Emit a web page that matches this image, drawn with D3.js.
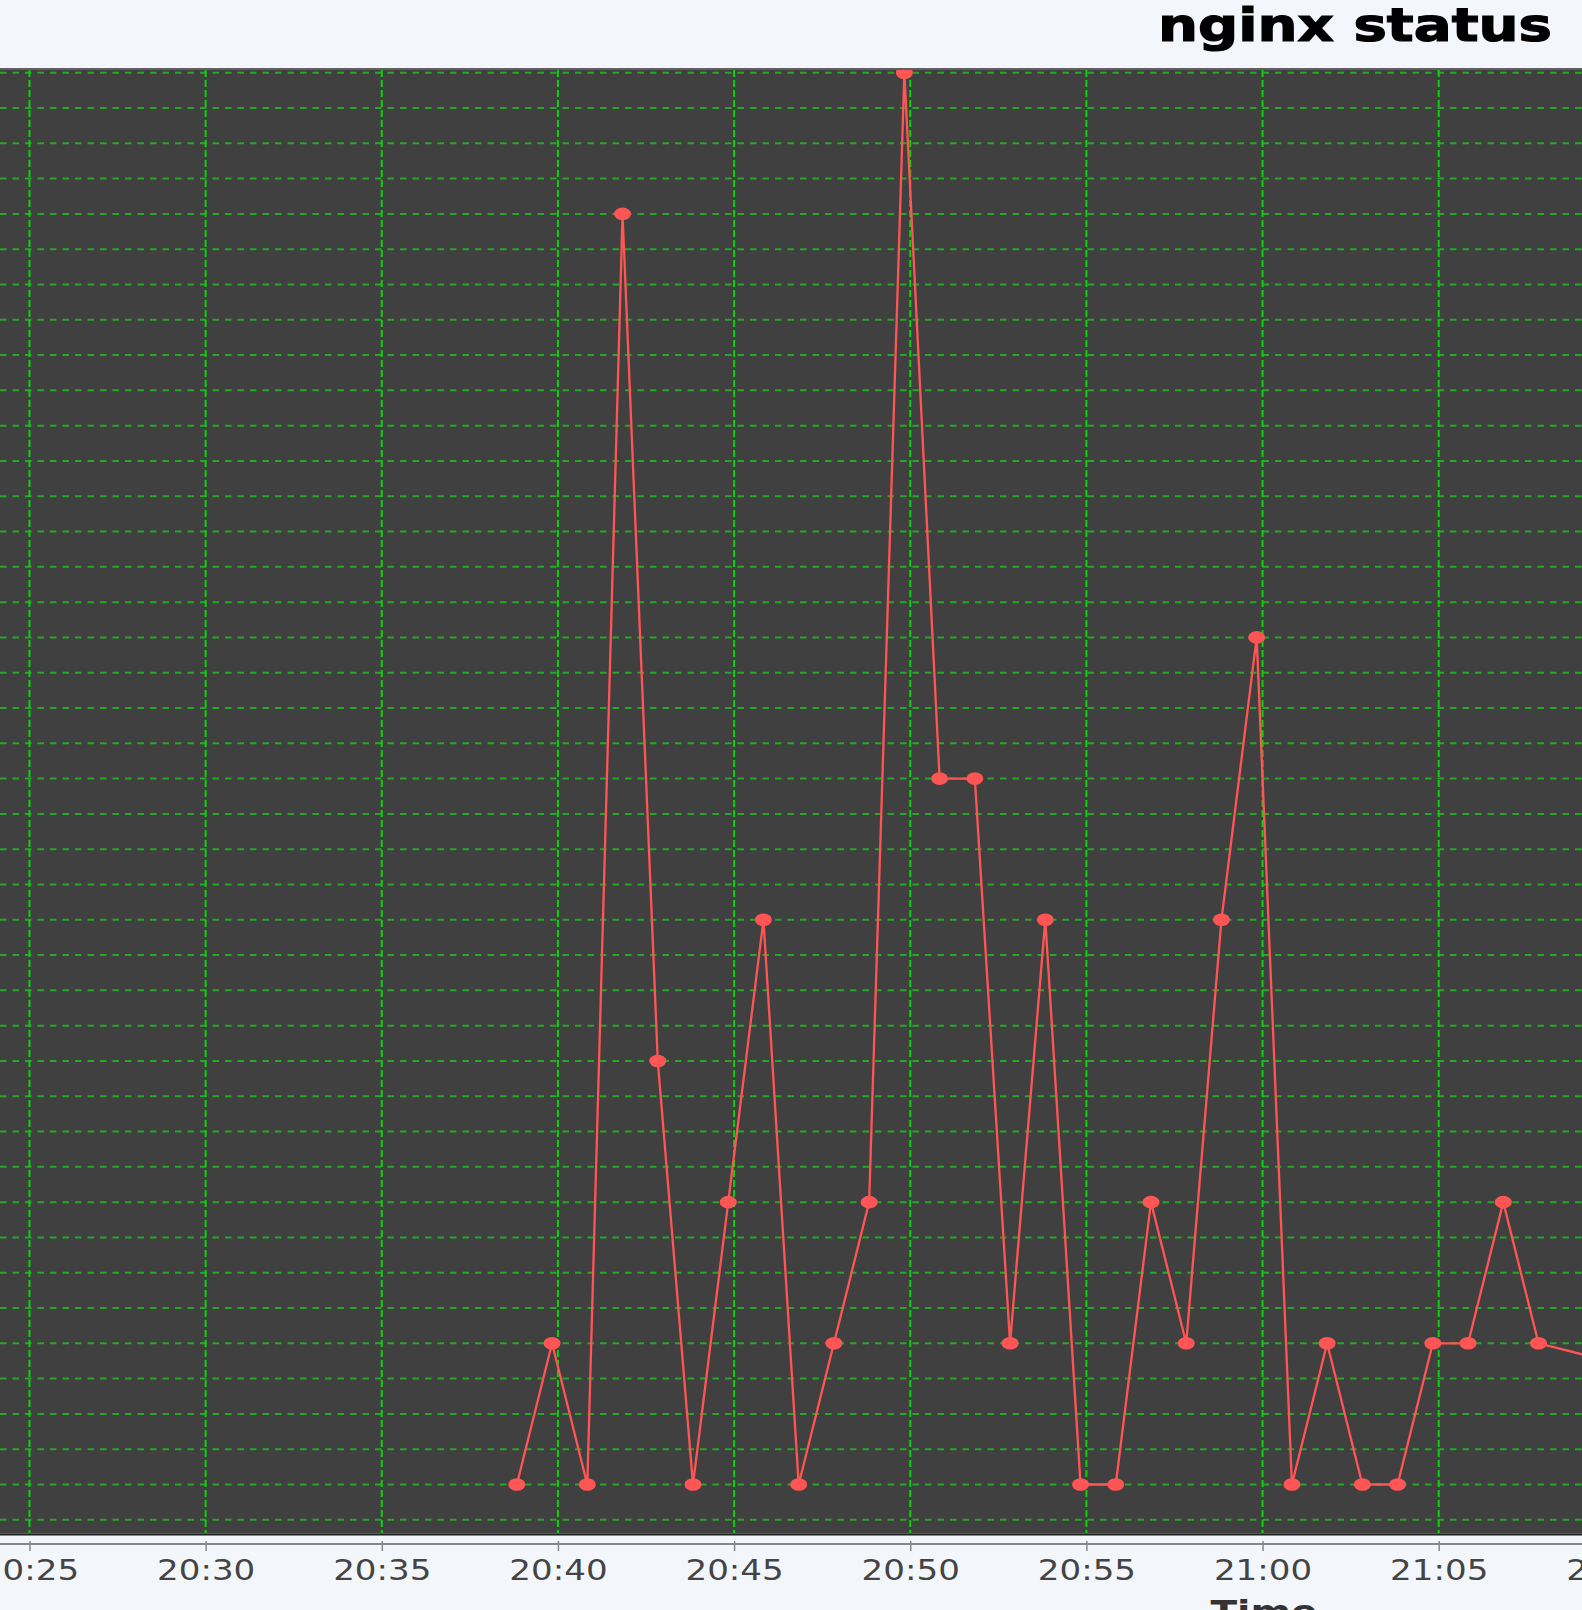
<!DOCTYPE html>
<html><head><meta charset="utf-8">
<script src="https://cdn.jsdelivr.net/npm/d3@7"></script>
<style>html,body{margin:0;padding:0;background:#f3f6fb;} svg{display:block}</style>
</head><body>
<svg id="chart" width="1582" height="1610"></svg>
<script>
// ---- data ----
const chartTitle = "nginx status";
const xAxisLabel = "Time";
const times = ["20:38:50","20:39:50","20:40:50","20:41:50","20:42:50","20:43:50","20:44:50","20:45:50",
  "20:46:50","20:47:50","20:48:50","20:49:50","20:50:50","20:51:50","20:52:50","20:53:50","20:54:50",
  "20:55:50","20:56:50","20:57:50","20:58:50","20:59:50","21:00:50","21:01:50","21:02:50","21:03:50",
  "21:04:50","21:05:50","21:06:50","21:07:50","21:23:50"];
const values = [1,2,1,10,4,1,3,5,1,2,3,11,6,6,2,5,1,1,3,2,5,7,1,2,1,1,2,2,3,2,1];
const xTickLabels = ["20:25","20:30","20:35","20:40","20:45","20:50","20:55","21:00","21:05","21:10"];
const yGridValues = d3.range(0.75, 11.001, 0.25);

// ---- layout ----
const W = 1582, H = 1610;
const plotTop = 70, plotBottom = 1533.5;
const svg = d3.select("#chart");
const parseT = d3.timeParse("%H:%M:%S");
const parseTick = d3.timeParse("%H:%M");
const fmt = d3.timeFormat("%H:%M");

const x = d3.scaleTime().domain([parseTick("20:25"), parseTick("21:05")]).range([29.5, 1438.7]);
const y = d3.scaleLinear().domain([1, 11]).range([1484.5, 72.7]);

const data = times.map((t, i) => ({t: parseT(t), v: values[i]}));
const tickDates = xTickLabels.map(parseTick);

svg.append("rect").attr("x", 0).attr("y", 0).attr("width", W).attr("height", H).attr("fill", "#f3f6fb");

svg.append("defs").append("clipPath").attr("id", "plotclip")
  .append("rect").attr("x", 0).attr("y", plotTop).attr("width", W).attr("height", plotBottom - plotTop);

// plot background
svg.append("rect").attr("x", 0).attr("y", plotTop).attr("width", W).attr("height", plotBottom - plotTop)
  .attr("fill", "#404040");

const plot = svg.append("g").attr("clip-path", "url(#plotclip)");

// horizontal gridlines
plot.append("g").selectAll("line").data(yGridValues).join("line")
  .attr("x1", 0).attr("x2", W)
  .attr("y1", d => y(d)).attr("y2", d => y(d))
  .attr("stroke", "#27a627").attr("stroke-width", 2).attr("stroke-dasharray", "6.5,6");

// vertical gridlines
plot.append("g").selectAll("line").data(tickDates).join("line")
  .attr("x1", d => x(d)).attr("x2", d => x(d))
  .attr("y1", plotTop).attr("y2", plotBottom)
  .attr("stroke", "#0fcf0f").attr("stroke-width", 2).attr("stroke-dasharray", "7,3");

// line
plot.append("path").datum(data)
  .attr("fill", "none").attr("stroke", "#ff5555").attr("stroke-width", 2.3)
  .attr("d", d3.line().x(d => x(d.t)).y(d => y(d.v)));

// points
plot.append("g").selectAll("ellipse").data(data).join("ellipse")
  .attr("cx", d => x(d.t)).attr("cy", d => y(d.v))
  .attr("rx", 8.5).attr("ry", 6.3).attr("fill", "#ff5555");

// plot borders
svg.append("line").attr("x1", 0).attr("x2", W).attr("y1", 69).attr("y2", 69)
  .attr("stroke", "#606060").attr("stroke-width", 2);
svg.append("line").attr("x1", 0).attr("x2", W).attr("y1", 1534.5).attr("y2", 1534.5)
  .attr("stroke", "#1e1e1e").attr("stroke-width", 2);

// x axis
const axisG = svg.append("g").attr("transform", "translate(0,1544)")
  .call(d3.axisBottom(x).tickValues(tickDates).tickFormat(fmt).tickSizeOuter(0));
axisG.select(".domain").remove();
axisG.insert("line", ":first-child").attr("x1", 0).attr("x2", W).attr("y1", 0).attr("y2", 0)
  .attr("stroke", "#888").attr("stroke-width", 2);
axisG.selectAll(".tick line").attr("y1", -3).attr("y2", 7).attr("stroke", "#888").attr("stroke-width", 1.5);
axisG.selectAll(".tick text")
  .attr("y", 36).attr("dy", null)
  .attr("transform", "scale(1.24,1)")
  .attr("font-family", "DejaVu Sans").attr("font-size", 27.5).attr("fill", "#444");

// title
svg.append("text").attr("transform", "translate(1552,40.5) scale(1.222,1)")
  .attr("text-anchor", "end").attr("font-family", "DejaVu Sans").attr("font-weight", "bold")
  .attr("font-size", 46).attr("fill", "#000").attr("stroke", "#000").attr("stroke-width", 1.2)
  .text(chartTitle);

// axis label
svg.append("text").attr("transform", "translate(1264,1623) scale(1.22,1)")
  .attr("text-anchor", "middle").attr("font-family", "DejaVu Sans").attr("font-weight", "bold")
  .attr("font-size", 32).attr("fill", "#333").text(xAxisLabel);
</script>
</body></html>
